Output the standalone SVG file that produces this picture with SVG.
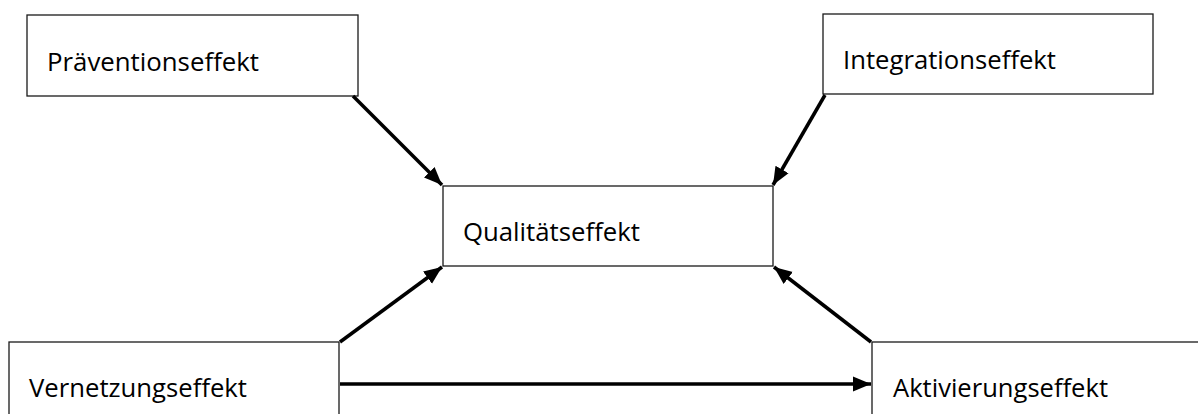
<svg xmlns="http://www.w3.org/2000/svg" width="1198" height="414" viewBox="0 0 1198 414">
<style>
.box{fill:#fff;stroke:#1a1a1a;stroke-width:1.3}
.lbl{font-family:"Open Sans","Liberation Sans",sans-serif;font-size:25.5px;fill:#000}
.con{stroke:#000;stroke-width:3.5;fill:none;marker-end:url(#ah)}
</style>
<defs>
<marker id="ah" markerUnits="userSpaceOnUse" markerWidth="20" markerHeight="18" refX="18" refY="9" orient="auto">
<path d="M0,1.5 L18,9 L0,16.5 Z" fill="#000"/>
</marker>
</defs>
<rect width="1198" height="414" fill="#fff"/>
<g id="praevention">
<rect class="box" x="27" y="15" width="331" height="81"/>
<text class="lbl" x="47" y="71" textLength="212" lengthAdjust="spacingAndGlyphs">Präventionseffekt</text>
</g>
<g id="integration">
<rect class="box" x="823" y="14" width="330" height="80"/>
<text class="lbl" x="843" y="69" textLength="213" lengthAdjust="spacingAndGlyphs">Integrationseffekt</text>
</g>
<g id="qualitaet">
<rect class="box" x="443" y="186" width="330" height="80"/>
<text class="lbl" x="463" y="241" textLength="177" lengthAdjust="spacingAndGlyphs">Qualitätseffekt</text>
</g>
<g id="vernetzung">
<rect class="box" x="9" y="342" width="330" height="90"/>
<text class="lbl" x="29" y="397" textLength="218" lengthAdjust="spacingAndGlyphs">Vernetzungseffekt</text>
</g>
<g id="aktivierung">
<rect class="box" x="872" y="342" width="340" height="90"/>
<text class="lbl" x="893" y="397" textLength="215" lengthAdjust="spacingAndGlyphs">Aktivierungseffekt</text>
</g>
<g id="connectors">
<line class="con" x1="353" y1="96" x2="442" y2="185"/>
<line class="con" x1="825" y1="95" x2="773" y2="185"/>
<line class="con" x1="340" y1="342" x2="442" y2="267"/>
<line class="con" x1="871" y1="342" x2="774" y2="267"/>
<line class="con" x1="340" y1="384" x2="871" y2="384"/>
</g>
</svg>
